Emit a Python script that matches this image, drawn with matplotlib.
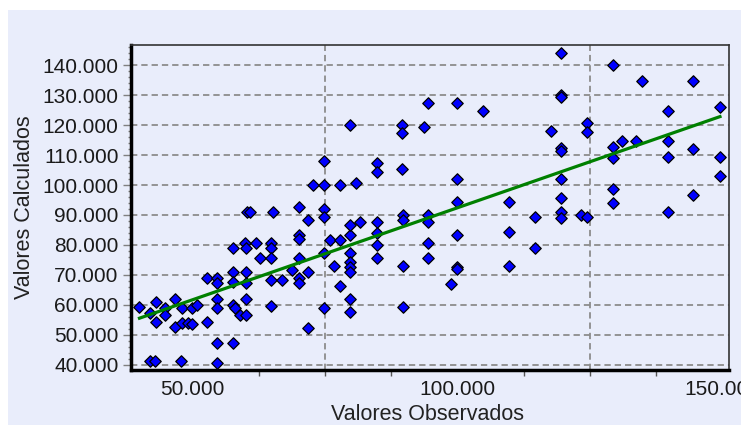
import numpy as np
import matplotlib.pyplot as plt
from matplotlib.patches import Rectangle
from matplotlib.ticker import FuncFormatter, FixedLocator, MultipleLocator

# valores observados / calculados (en miles)
obs = [40.0, 41.9, 43.1, 43.1, 44.8, 44.8, 46.7, 46.7, 48.0, 48.0,
       49.1, 49.9, 49.9, 50.9, 52.8, 54.7, 54.7, 52.8, 54.7, 54.7,
       54.7, 54.7, 41.9, 42.9, 47.8, 57.7, 57.7, 58.0, 59.0, 60.1,
       60.1, 57.7, 60.1, 57.7, 60.1, 57.7, 59.9, 60.1, 62.0, 62.7,
       64.9, 64.9, 64.9, 64.9, 66.9, 64.9, 60.2, 60.8, 65.2, 70.0,
       71.8, 70.0, 70.0, 68.7, 70.0, 70.0, 70.0, 71.8, 71.8, 74.8,
       74.8, 72.8, 74.8, 74.8, 74.8, 75.9, 74.8, 76.7, 77.8, 80.8,
       79.7, 77.8, 79.7, 79.7, 81.6, 84.8, 84.8, 84.8, 84.8, 79.7,
       79.7, 79.7, 79.7, 77.8, 79.7, 79.7, 84.8, 84.8, 89.6, 89.6,
       89.6, 89.7, 89.7, 89.7, 89.7, 94.5, 93.7, 94.5, 94.5, 94.5,
       94.5, 99.9, 104.8, 99.9, 99.9, 99.9, 99.9, 99.9, 98.8, 109.7,
       109.7, 109.7, 114.6, 114.6, 117.6, 119.5, 119.5, 119.5, 119.5, 119.5,
       119.5, 119.5, 119.5, 119.5, 123.3, 124.5, 124.5, 124.5, 129.4, 129.4,
       129.4, 129.4, 129.4, 131.0, 133.6, 134.8, 139.7, 139.7, 139.7, 139.7,
       144.5, 144.5, 144.5, 149.5, 149.5, 149.5]
calc = [59.4, 57.2, 61.1, 54.4, 58.9, 56.7, 61.9, 52.8, 58.9, 53.9,
        53.9, 53.7, 58.9, 60.0, 54.4, 61.9, 58.9, 68.9, 68.9, 67.2,
        47.4, 40.8, 41.4, 41.4, 41.4, 47.4, 60.0, 58.9, 56.7, 56.7,
        61.9, 71.1, 71.1, 67.8, 67.2, 79.1, 80.6, 78.9, 80.6, 75.6,
        80.6, 78.9, 75.6, 68.3, 68.3, 59.7, 91.1, 91.1, 91.1, 92.6,
        88.3, 83.3, 81.9, 71.7, 75.6, 68.9, 67.2, 71.1, 52.2, 59.0,
        108.0, 100.0, 100.0, 91.9, 89.2, 81.7, 77.2, 73.0, 100.0, 100.6,
        120.0, 81.7, 83.3, 86.7, 87.8, 87.8, 83.9, 80.0, 75.6, 77.2,
        74.4, 72.8, 71.1, 66.3, 61.9, 57.8, 107.2, 104.4, 120.0, 117.2,
        105.2, 90.0, 88.3, 73.0, 59.2, 127.4, 119.2, 90.0, 87.8, 80.6,
        75.6, 127.4, 124.7, 101.9, 94.4, 83.3, 72.8, 72.0, 67.0, 94.4,
        84.4, 73.1, 89.2, 79.1, 118.0, 143.9, 130.0, 129.2, 112.2, 111.4,
        101.9, 95.8, 91.1, 88.9, 90.0, 89.2, 120.6, 117.8, 140.0, 112.8,
        109.1, 98.6, 93.9, 114.8, 114.7, 134.7, 124.7, 114.7, 109.2, 91.1,
        134.7, 112.0, 96.7, 125.9, 109.2, 103.1]

# recta de ajuste
fit_x = [40.0, 149.5]
fit_y = [55.6, 122.8]

x_ticks = [50, 100, 150]
x_minor = [62.5, 75, 87.5, 112.5, 125, 137.5]
x_grid = [75, 125]
y_ticks = list(range(40, 150, 10))

bg = '#E9EDFB'
plt.rcParams['font.family'] = ['Liberation Sans', 'DejaVu Sans']

fig = plt.figure(figsize=(7.41, 4.25), dpi=100)
fig.patch.set_facecolor('white')
fig.add_artist(Rectangle((8 / 741, 0), 1, 415 / 425, transform=fig.transFigure,
                         facecolor=bg, edgecolor='none', zorder=-10))
ax = fig.add_axes([131 / 741, 55 / 425, 598 / 741, 325 / 425])
ax.set_facecolor(bg)
ax.set_xlim(38.4, 151.2)
ax.set_ylim(38.33, 146.67)

grid_style = dict(color='#8c8c8c', lw=1.3, ls=(0, (3.5, 2.2)), zorder=1)
for y in y_ticks:
    ax.axhline(y, **grid_style)
for x in x_grid:
    ax.axvline(x, **grid_style)

ax.scatter(obs, calc, marker='D', s=34, c='#0000FF', edgecolors='black',
           linewidths=0.9, zorder=3)
ax.plot(fit_x, fit_y, color='#008000', lw=2.3, zorder=4)

fmt = FuncFormatter(lambda v, p: f'{v * 1000:,.0f}'.replace(',', '.'))
ax.set_xticks(x_ticks)
ax.xaxis.set_minor_locator(FixedLocator(x_minor))
ax.xaxis.set_major_formatter(fmt)
ax.tick_params(axis='x', which='major', length=0, pad=7, labelsize=15, labelcolor='#1a1a1a')
ax.tick_params(axis='x', which='minor', length=4, width=1, color='#555555')
ax.set_yticks(y_ticks)
ax.yaxis.set_minor_locator(MultipleLocator(2))
ax.yaxis.set_major_formatter(fmt)
ax.tick_params(axis='y', which='major', length=6, width=1, pad=3, labelsize=15,
               color='#808080', labelcolor='#1a1a1a')
ax.tick_params(axis='y', which='minor', length=2.5, width=1, color='#808080')

for s in ['left', 'bottom']:
    ax.spines[s].set_linewidth(2.5)
    ax.spines[s].set_color('black')
for s in ['top', 'right']:
    ax.spines[s].set_linewidth(1.2)
    ax.spines[s].set_color('#333333')

ax.set_xlabel('Valores Observados', fontsize=15.5, color='#222222')
ax.xaxis.set_label_coords(0.495, -0.105)
ax.set_ylabel('Valores Calculados', fontsize=15.5, color='#222222')
ax.yaxis.set_label_coords(-0.16, 0.5)

fig.savefig('out.png', dpi=100, facecolor=fig.get_facecolor())
